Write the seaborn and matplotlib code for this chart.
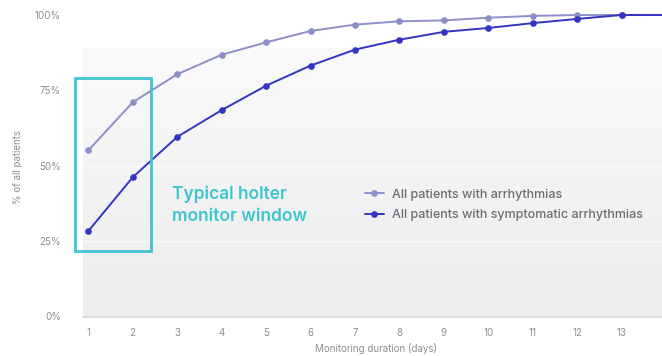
import numpy as np
import pandas as pd
import matplotlib
matplotlib.use("Agg")
import matplotlib.pyplot as plt
from matplotlib.patches import Rectangle
import seaborn as sns

# Cumulative share of patients with a detected arrhythmia by monitoring day
days = list(range(1, 15))
all_arrhythmias = [55.0, 71.0, 80.3, 86.8, 90.9, 94.7, 96.8, 97.9, 98.2, 99.1, 99.7, 100.0, 100.0, 100.0]
symptomatic_arrhythmias = [28.2, 46.1, 59.5, 68.4, 76.5, 83.2, 88.5, 91.8, 94.4, 95.7, 97.3, 98.7, 100.0, 100.0]
series_names = ["All patients with arrhythmias", "All patients with symptomatic arrhythmias"]
series_colors = ["#8e8ec9", "#3434c2"]
y_ticks = [0, 25, 50, 75, 100]
y_tick_labels = ["0%", "25%", "50%", "75%", "100%"]
window_label = "Typical holter\nmonitor window"

df = pd.DataFrame({
    "day": days * 2,
    "pct": all_arrhythmias + symptomatic_arrhythmias,
    "series": [series_names[0]] * len(days) + [series_names[1]] * len(days),
})

sns.set_theme(style="white")
plt.rcParams["font.family"] = ["Inter", "DejaVu Sans"]

W, H = 662, 356
fig = plt.figure(figsize=(W / 100, H / 100), dpi=100)
fig.patch.set_facecolor("white")

# axes spans past the right edge so the last day is clipped
left_px, right_px, bottom_px, top_px = 83, 680, 317, 5
ax = fig.add_axes([left_px / W, 1 - bottom_px / H,
                   (right_px - left_px) / W, (bottom_px - top_px) / H])
step = 44.45
x0 = 1 - (88.3 - left_px) / step
x1 = 1 + (right_px - 88.3) / step
ppu = 3.01
ax.set_xlim(x0, x1)
ax.set_ylim(-(bottom_px - 316) / ppu, (316 - top_px) / ppu)
ax.set_facecolor("white")

# soft vertical gradient behind the curves
grad = np.linspace(0, 1, 256).reshape(-1, 1)
top_c = np.array(matplotlib.colors.to_rgb("#fafafb"))
bot_c = np.array(matplotlib.colors.to_rgb("#ececee"))
img = top_c[None, None, :] * (1 - grad[..., None]) + bot_c[None, None, :] * grad[..., None]
ax.imshow(img, extent=[x0, x1, 0, 89], aspect="auto", zorder=0, origin="upper")
for gy in (25, 50):
    ax.axhline(gy, color="white", lw=1.0, alpha=0.7, zorder=1)

sns.lineplot(data=df, x="day", y="pct", hue="series", palette=series_colors,
             marker="o", markersize=4.8, markeredgewidth=0, linewidth=1.4,
             ax=ax, zorder=3)

for s in ("top", "right", "left"):
    ax.spines[s].set_visible(False)
ax.spines["bottom"].set_color("#d4d4d8")
ax.spines["bottom"].set_linewidth(1.2)

ax.set_xticks(days)
ax.set_xticklabels([str(d) for d in days])
ax.set_yticks(y_ticks)
ax.set_yticklabels(y_tick_labels)
ax.tick_params(axis="both", length=0, labelsize=7, labelcolor="#8e8e8e")
ax.tick_params(axis="y", pad=16)
ax.tick_params(axis="x", pad=8)
ax.set_xlabel("")
ax.set_ylabel("")

fig.text(376 / W, 1 - 348 / H, "Monitoring duration (days)", ha="center", va="center",
         fontsize=7, color="#8e8e8e")
fig.text(18 / W, 1 - 167 / H, "% of all patients", ha="center", va="center",
         rotation=90, fontsize=7, color="#8e8e8e")

# highlight of the typical holter window
ax.add_patch(Rectangle((0.71, 21.6), 2.40 - 0.71, 79.1 - 21.6, fill=False,
                       edgecolor="#3fc4d2", linewidth=2, zorder=4, clip_on=False))
fig.text(172 / W, 1 - 205 / H, window_label, ha="left", va="center",
         fontsize=12.5, fontweight="semibold", color="#3fc4d2", linespacing=1.35)

handles, labels = ax.get_legend_handles_labels()
ax.legend(handles, labels, loc="center left", bbox_to_anchor=(360 / W, 1 - 205 / H),
          bbox_transform=fig.transFigure, frameon=False, fontsize=9,
          labelcolor="#6e6e6e", handlelength=1.5, handletextpad=0.7,
          labelspacing=0.7, borderaxespad=0)
for t in ax.get_legend().get_texts():
    t.set_fontweight("medium")

fig.savefig("out.png", dpi=100)
